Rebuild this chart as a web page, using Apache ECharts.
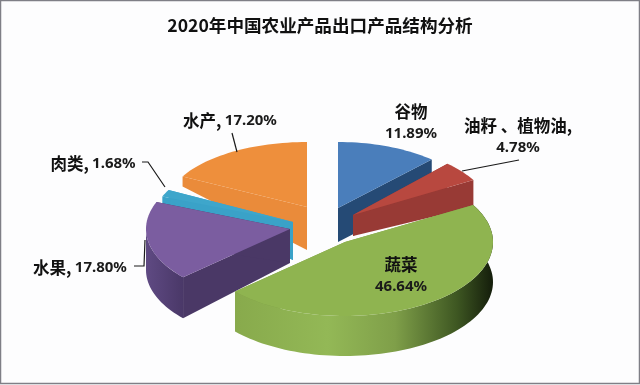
<!DOCTYPE html>
<html>
<head>
<meta charset="UTF-8">
<title>2020年中国农业产品出口产品结构分析</title>
<script src="https://cdn.jsdelivr.net/npm/echarts@6/dist/echarts.min.js"></script>
<style>
html,body{margin:0;padding:0;background:#fff;}
#main{width:640px;height:385px;}
</style>
</head>
<body>
<div id="main"></div>
<script>
var titleText = '2020年中国农业产品出口产品结构分析';
var categories = ['谷物', '油籽 、植物油', '蔬菜', '水果', '肉类', '水产'];
var shares = [11.89, 4.78, 46.64, 17.80, 1.68, 17.20];

// 画面参数：每块的顶点、椭圆半径、侧面厚度（内/外）
var slices = [
  {cx: 338, cy: 208, rx: 138, ry: 66, d0: 34, d1: 34, top: '#4a7ebb', side: '#254a75', wall: ['#254a75', '#254a75']},
  {cx: 353, cy: 215, rx: 139, ry: 70, d0: 21, d1: 27, top: '#b8483f', side: '#983a35', wall: ['#983a35', '#983a35']},
  {cx: 345, cy: 242, rx: 148, ry: 74, d0: 34, d1: 40, top: '#8fb450', side: '#7d9c45', wall: ['#88aa4c', '#93b856', '#7f9f49', '#3e5722', '#141d0b']},
  {cx: 290, cy: 229, rx: 144, ry: 72, d0: 34, d1: 41, top: '#7b5da0', side: '#4a3866', wall: ['#5f4a83', '#4a3868']},
  {cx: 293, cy: 222, rx: 141, ry: 68, d0: 38, d1: 10, top: '#3ea6cb', side: '#3aa2c8', wall: ['#3aa2c8', '#3aa2c8']},
  {cx: 307, cy: 207, rx: 141, ry: 65, d0: 43, d1: 10, top: '#ee8f3c', side: '#ea8b3a', wall: ['#ea8b3a', '#ea8b3a']}
];
var drawOrder = [5, 4, 3, 0, 1, 2];

// 标签位置
var labelPos = [[411, 123], [518, 137], [401, 276], [80, 268], [93, 164], [230, 121]];
var labelSep = ['\n', ',\n', '\n', ', ', ', ', ', '];
var leaders = [
  null,
  [[462, 171], [519, 160]],
  null,
  [[134, 266], [144, 266], [145, 240]],
  [[142, 162], [148, 162], [165, 187]],
  [[232, 133], [237, 152]]
];

// 累计角度，12点起顺时针
var total = 0, i;
for (i = 0; i < shares.length; i++) { total += shares[i]; }
var startAngles = [], endAngles = [], acc = 0;
for (i = 0; i < shares.length; i++) {
  startAngles.push(acc / total * 360);
  acc += shares[i];
  endAngles.push(acc / total * 360);
}

function pt(s, deg, dy) {
  var a = deg * Math.PI / 180;
  return [s.cx + s.rx * Math.sin(a), s.cy - s.ry * Math.cos(a) + (dy || 0)];
}
function arc(s, a0, a1, dy) {
  var pts = [], n = Math.max(2, Math.ceil(Math.abs(a1 - a0) / 2));
  for (var k = 0; k <= n; k++) { pts.push(pt(s, a0 + (a1 - a0) * k / n, dy)); }
  return pts;
}
function wallFill(colors) {
  var stops = [];
  for (var k = 0; k < colors.length; k++) {
    stops.push({offset: k / (colors.length - 1), color: colors[k]});
  }
  if (colors.length == 5) {
    stops[1].offset = 0.36; stops[2].offset = 0.62; stops[3].offset = 0.86;
  }
  return new echarts.graphic.LinearGradient(0, 0, 1, 0, stops);
}

function renderSlice(params) {
  var idx = drawOrder[params.dataIndex];
  var s = slices[idx], a0 = startAngles[idx], a1 = endAngles[idx];
  var children = [];
  var apex = [s.cx, s.cy];
  var apexLow = [s.cx, s.cy + s.d0];

  // 两个切面
  var sideEdges = [a0, a1];
  for (var k = 0; k < 2; k++) {
    var c = pt(s, sideEdges[k]);
    var cLow = pt(s, sideEdges[k], s.d1);
    children.push({type: 'polygon', shape: {points: [apex, c, cLow, apexLow]}, style: {fill: s.side}});
  }
  // 外圆侧面，朝前的部分
  var w0 = Math.max(a0, 60), w1 = Math.min(a1, 270);
  if (w1 > w0) {
    var up = arc(s, w0, w1, 0), low = arc(s, w1, w0, s.d1);
    children.push({type: 'polygon', shape: {points: up.concat(low)}, style: {fill: wallFill(s.wall)}});
  }
  // 顶面
  var face = [apex].concat(arc(s, a0, a1, 0));
  children.push({type: 'polygon', shape: {points: face}, style: {fill: s.top}});
  return {type: 'group', children: children};
}

function renderLabel(params) {
  var idx = params.dataIndex;
  var children = [];
  if (leaders[idx]) {
    children.push({type: 'polyline', shape: {points: leaders[idx]}, style: {stroke: '#1a1a1a', lineWidth: 1.2, fill: null}});
  }
  var sep = labelSep[idx];
  var nameEnd = sep.charAt(0) == ',' ? ',' : '';
  var brk = sep.indexOf('\n') >= 0 ? '\n' : ' ';
  children.push({
    type: 'text',
    style: {
      x: labelPos[idx][0], y: labelPos[idx][1],
      text: '{c|' + categories[idx] + nameEnd + '}' + brk + '{n|' + shares[idx].toFixed(2) + '%}',
      align: 'center', verticalAlign: 'middle',
      fill: '#111',
      rich: {
        c: {font: 'bold 16.5px "Noto Sans CJK SC", sans-serif', lineHeight: 22, fill: '#111'},
        n: {font: 'bold 15px "Noto Sans", sans-serif', lineHeight: 22, fill: '#1a1a1a'}
      }
    }
  });
  return {type: 'group', children: children};
}

var chart = echarts.init(document.getElementById('main'), null, {renderer: 'canvas'});
chart.setOption({
  backgroundColor: '#fdfdfe',
  animation: false,
  title: {
    text: titleText,
    left: 'center',
    top: 12,
    textStyle: {fontFamily: '"Noto Sans CJK SC", sans-serif', fontSize: 17.6, fontWeight: 'bold', color: '#111'}
  },
  graphic: [{
    type: 'rect',
    shape: {x: 0.5, y: 0.5, width: 639, height: 383},
    style: {fill: null, stroke: '#7f7f86', lineWidth: 1.5},
    silent: true
  }],
  series: [
    {type: 'custom', coordinateSystem: 'none', renderItem: renderSlice, data: drawOrder.map(function (d) { return shares[d]; }), silent: true, z: 1},
    {type: 'custom', coordinateSystem: 'none', renderItem: renderLabel, data: shares, silent: true, z: 2}
  ]
});
</script>
</body>
</html>
